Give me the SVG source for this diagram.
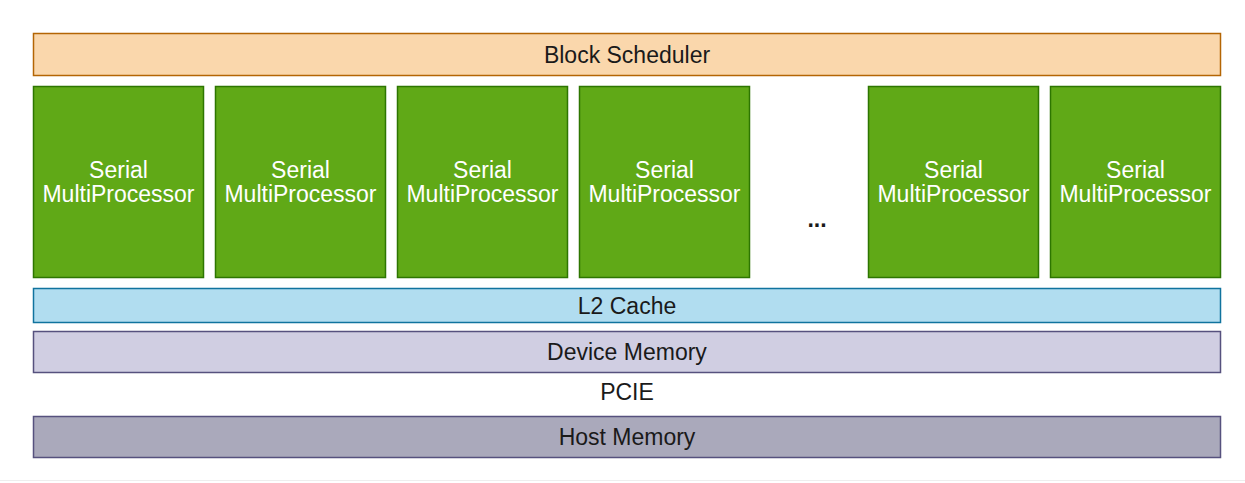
<svg xmlns="http://www.w3.org/2000/svg" width="1245" height="483" viewBox="0 0 1245 483">
<style>
  text { font-family: "Liberation Sans", Arial, Helvetica, sans-serif; font-size: 23px; text-anchor: middle; }
  .sched { fill: #fad7ac; stroke: #b46504; stroke-width: 1.5; }
  .sm { fill: #60a917; stroke: #2d7600; stroke-width: 1.5; }
  .sm-t { fill: #ffffff; }
  .l2 { fill: #b1ddf0; stroke: #10739e; stroke-width: 1.5; }
  .dev { fill: #d0cee2; stroke: #56517e; stroke-width: 1.5; }
  .host { fill: #aaa9bb; stroke: #56517e; stroke-width: 1.5; }
  .dark { fill: #1a1a1a; }
  .dots { font-weight: bold; }
</style>
<rect width="1245" height="483" fill="#ffffff"/>
<line x1="0" y1="480.5" x2="1245" y2="480.5" stroke="#eeeeee" stroke-width="1"/>

<g id="block-scheduler">
  <rect class="sched" x="33.5" y="33.5" width="1187" height="42"/>
  <text class="dark" x="627" y="63">Block Scheduler</text>
</g>

<g id="sm1">
  <rect class="sm" x="33.5" y="86.5" width="170" height="191"/>
  <text class="sm-t" x="118.5" y="178">Serial</text>
  <text class="sm-t" x="118.5" y="202">MultiProcessor</text>
</g>
<g id="sm2">
  <rect class="sm" x="215.5" y="86.5" width="170" height="191"/>
  <text class="sm-t" x="300.5" y="178">Serial</text>
  <text class="sm-t" x="300.5" y="202">MultiProcessor</text>
</g>
<g id="sm3">
  <rect class="sm" x="397.5" y="86.5" width="170" height="191"/>
  <text class="sm-t" x="482.5" y="178">Serial</text>
  <text class="sm-t" x="482.5" y="202">MultiProcessor</text>
</g>
<g id="sm4">
  <rect class="sm" x="579.5" y="86.5" width="170" height="191"/>
  <text class="sm-t" x="664.5" y="178">Serial</text>
  <text class="sm-t" x="664.5" y="202">MultiProcessor</text>
</g>
<g id="ellipsis">
  <text class="dark dots" x="817" y="227">...</text>
</g>
<g id="sm5">
  <rect class="sm" x="868.5" y="86.5" width="170" height="191"/>
  <text class="sm-t" x="953.5" y="178">Serial</text>
  <text class="sm-t" x="953.5" y="202">MultiProcessor</text>
</g>
<g id="sm6">
  <rect class="sm" x="1050.5" y="86.5" width="170" height="191"/>
  <text class="sm-t" x="1135.5" y="178">Serial</text>
  <text class="sm-t" x="1135.5" y="202">MultiProcessor</text>
</g>

<g id="l2-cache">
  <rect class="l2" x="33.5" y="288.5" width="1187" height="34"/>
  <text class="dark" x="627" y="314">L2 Cache</text>
</g>
<g id="device-memory">
  <rect class="dev" x="33.5" y="331.5" width="1187" height="41"/>
  <text class="dark" x="627" y="360">Device Memory</text>
</g>
<g id="pcie">
  <text class="dark" x="627" y="400">PCIE</text>
</g>
<g id="host-memory">
  <rect class="host" x="33.5" y="416.5" width="1187" height="41"/>
  <text class="dark" x="627" y="445">Host Memory</text>
</g>
<g id="connectors"/>
</svg>
